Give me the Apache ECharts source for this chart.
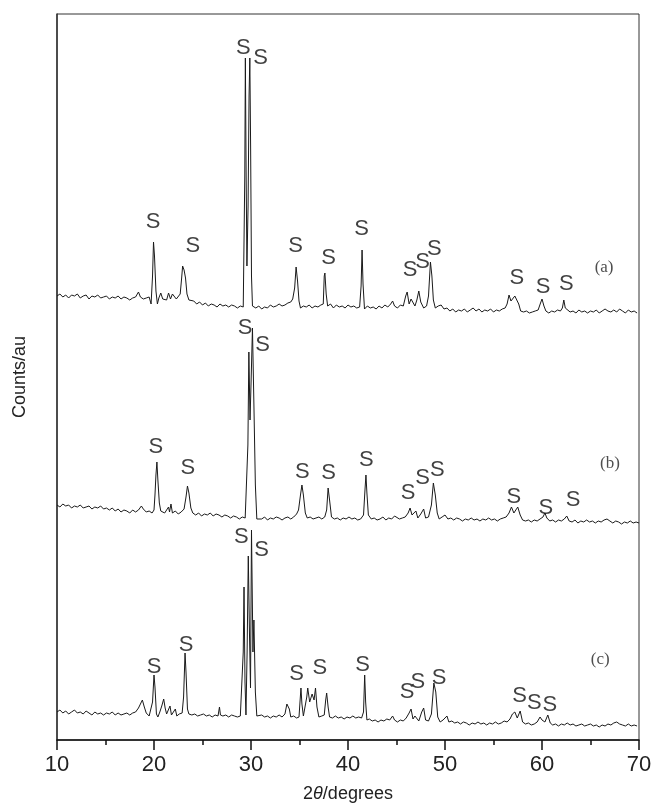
<!DOCTYPE html>
<html>
<head>
<meta charset="utf-8">
<style>html,body{margin:0;padding:0;background:#fff;}#c{width:656px;height:803px;}</style>
<script src="https://cdn.jsdelivr.net/npm/echarts@6/dist/echarts.min.js"></script>
</head>
<body>
<div id="c"></div>
<script>
// x tick labels
const xTicks = [10, 20, 30, 40, 50, 60, 70];
// vertical offsets of the stacked patterns (counts, arbitrary units)
const offsetA = 444, offsetB = 235, offsetC = 28;

// pattern (a): [2theta, counts above its offset]
const patternA = [[10.0,0],[10.3,2],[10.6,-1],[10.9,1],[11.2,-2],[11.5,1],[11.8,0],[12.1,2],[12.4,-2],[12.7,0],[13.0,1],[13.3,-3],[13.6,0],[13.9,-1],[14.2,1],[14.5,-2],[14.8,-1],[15.1,0],[15.4,-3],[15.7,-1],[16.0,-2],[16.3,0],[16.6,-3],[16.9,-1],[17.2,-2],[17.5,-4],[17.8,-2],[18.1,-1],[18.4,4],[18.6,-1],[18.9,-3],[19.2,-2],[19.5,-1],[19.7,-8],[19.85,20],[19.95,54],[20.05,40],[20.2,5],[20.35,-8],[20.5,-2],[20.7,3],[20.9,-3],[21.1,-1],[21.3,-4],[21.5,3],[21.7,-3],[21.9,2],[22.1,4],[22.3,-3],[22.5,-2],[22.7,2],[22.85,18],[22.95,30],[23.1,26],[23.25,18],[23.4,2],[23.6,-4],[23.8,-6],[24.1,-5],[24.4,-8],[24.7,-6],[25.0,-9],[25.3,-7],[25.6,-10],[25.9,-8],[26.2,-9],[26.5,-11],[26.8,-8],[27.1,-10],[27.4,-9],[27.7,-11],[28.0,-9],[28.3,-10],[28.6,-12],[28.9,-10],[29.2,-11],[29.32,-10],[29.36,120],[29.42,238],[29.5,120],[29.58,30],[29.7,90],[29.8,200],[29.88,238],[29.96,150],[30.05,20],[30.15,-10],[30.3,-8],[30.5,-12],[30.8,-10],[31.1,-13],[31.4,-11],[31.7,-12],[32.0,-9],[32.3,-11],[32.6,-10],[32.9,-8],[33.2,-10],[33.5,-9],[33.8,-7],[34.1,-6],[34.3,-3],[34.5,8],[34.65,29],[34.8,15],[34.95,-5],[35.1,-12],[35.4,-10],[35.7,-11],[36.0,-9],[36.3,-12],[36.6,-10],[36.9,-11],[37.2,-9],[37.45,-8],[37.55,20],[37.62,23],[37.75,2],[37.9,-10],[38.2,-8],[38.5,-12],[38.8,-9],[39.1,-11],[39.4,-10],[39.7,-12],[40.0,-9],[40.3,-11],[40.6,-10],[40.9,-12],[41.2,-11],[41.35,10],[41.45,46],[41.55,12],[41.7,-13],[42.0,-10],[42.3,-12],[42.6,-11],[42.9,-13],[43.2,-10],[43.5,-12],[43.8,-9],[44.1,-11],[44.4,-8],[44.6,-5],[44.8,-10],[45.1,-12],[45.4,-9],[45.7,-10],[45.95,0],[46.1,4],[46.3,-8],[46.5,-3],[46.7,-2],[46.9,-10],[47.1,-4],[47.3,5],[47.5,-6],[47.8,-12],[48.1,-10],[48.3,0],[48.5,34],[48.65,20],[48.8,-4],[49.0,-12],[49.3,-10],[49.6,-9],[49.9,-13],[50.2,-12],[50.5,-15],[50.8,-13],[51.1,-16],[51.4,-14],[51.7,-15],[52.0,-13],[52.3,-16],[52.6,-14],[52.9,-12],[53.2,-15],[53.5,-13],[53.8,-16],[54.1,-14],[54.4,-15],[54.7,-13],[55.0,-16],[55.3,-14],[55.6,-15],[55.9,-13],[56.2,-12],[56.4,-8],[56.6,1],[56.8,-5],[57.0,-6],[57.2,0],[57.4,1],[57.6,-8],[57.8,-15],[58.1,-16],[58.4,-15],[58.7,-17],[59.0,-16],[59.3,-15],[59.6,-14],[59.85,-7],[60.0,-3],[60.2,-10],[60.4,-15],[60.7,-17],[61.0,-15],[61.3,-16],[61.6,-14],[61.9,-15],[62.1,-12],[62.25,-4],[62.4,-12],[62.6,-14],[62.9,-16],[63.2,-15],[63.5,-17],[63.8,-14],[64.1,-16],[64.4,-15],[64.7,-17],[65.0,-15],[65.3,-16],[65.6,-14],[65.9,-17],[66.2,-15],[66.5,-13],[66.8,-15],[67.1,-16],[67.4,-14],[67.7,-16],[68.0,-13],[68.3,-15],[68.6,-17],[68.9,-14],[69.2,-16],[69.5,-15],[69.8,-17]];

// pattern (b)
const patternB = [[10.0,0],[10.3,-2],[10.6,1],[10.9,-1],[11.2,0],[11.5,-3],[11.8,-1],[12.1,-2],[12.4,0],[12.7,-3],[13.0,-2],[13.3,-1],[13.6,-4],[13.9,-2],[14.2,-3],[14.5,-1],[14.8,-4],[15.1,-3],[15.4,-5],[15.7,-3],[16.0,-6],[16.3,-4],[16.6,-7],[16.9,-5],[17.2,-6],[17.5,-8],[17.8,-5],[18.1,-7],[18.4,-5],[18.7,-1],[18.9,-4],[19.2,-7],[19.5,-6],[19.8,-8],[20.0,-5],[20.1,10],[20.2,30],[20.3,43],[20.4,25],[20.55,2],[20.7,-6],[20.9,-4],[21.1,-8],[21.3,-6],[21.5,-2],[21.6,-7],[21.75,1],[21.9,-8],[22.2,-6],[22.5,-9],[22.8,-7],[23.1,-4],[23.3,8],[23.45,19],[23.6,12],[23.8,-3],[24.0,-8],[24.3,-10],[24.6,-8],[24.9,-11],[25.2,-9],[25.5,-10],[25.8,-8],[26.1,-11],[26.4,-9],[26.7,-10],[27.0,-12],[27.3,-10],[27.6,-11],[27.9,-13],[28.2,-11],[28.5,-12],[28.8,-14],[29.1,-12],[29.4,-13],[29.6,-12],[29.68,60],[29.78,153],[29.9,85],[30.0,120],[30.15,177],[30.3,100],[30.45,20],[30.6,-14],[30.8,-12],[31.1,-14],[31.4,-12],[31.7,-15],[32.0,-13],[32.3,-14],[32.6,-12],[32.9,-13],[33.2,-15],[33.5,-13],[33.8,-12],[34.1,-14],[34.4,-12],[34.7,-9],[34.9,-5],[35.1,10],[35.25,20],[35.4,10],[35.6,-8],[35.8,-13],[36.1,-12],[36.4,-14],[36.7,-13],[37.0,-12],[37.3,-14],[37.6,-12],[37.8,-5],[37.95,17],[38.1,5],[38.3,-12],[38.6,-14],[38.9,-13],[39.2,-15],[39.5,-13],[39.8,-14],[40.1,-12],[40.4,-14],[40.7,-13],[41.0,-15],[41.3,-14],[41.6,-10],[41.75,15],[41.85,30],[41.95,12],[42.1,-10],[42.4,-14],[42.7,-13],[43.0,-15],[43.3,-14],[43.6,-12],[43.9,-15],[44.2,-13],[44.5,-14],[44.8,-11],[45.0,-9],[45.3,-14],[45.6,-13],[45.9,-12],[46.2,-8],[46.4,-3],[46.6,-10],[46.8,-8],[47.0,-6],[47.2,-13],[47.5,-9],[47.8,-4],[48.0,-13],[48.3,-12],[48.6,0],[48.8,22],[49.0,10],[49.2,-8],[49.4,-14],[49.7,-12],[50.0,-10],[50.3,-14],[50.6,-13],[50.9,-15],[51.2,-13],[51.5,-14],[51.8,-16],[52.1,-14],[52.4,-15],[52.7,-13],[53.0,-15],[53.3,-14],[53.6,-16],[53.9,-14],[54.2,-15],[54.5,-13],[54.8,-15],[55.1,-14],[55.4,-16],[55.7,-14],[56.0,-13],[56.3,-12],[56.6,-8],[56.85,-2],[57.1,-8],[57.5,-2],[57.75,-10],[58.0,-15],[58.3,-16],[58.6,-15],[58.9,-17],[59.2,-15],[59.5,-16],[59.8,-14],[60.1,-12],[60.3,-8],[60.5,-13],[60.8,-16],[61.1,-15],[61.4,-17],[61.7,-15],[62.0,-16],[62.3,-14],[62.55,-11],[62.8,-16],[63.1,-17],[63.4,-15],[63.7,-18],[64.0,-16],[64.3,-17],[64.6,-15],[64.9,-17],[65.2,-16],[65.5,-18],[65.8,-16],[66.1,-17],[66.4,-15],[66.7,-14],[67.0,-16],[67.3,-18],[67.6,-16],[67.9,-17],[68.2,-19],[68.5,-17],[68.8,-18],[69.1,-16],[69.4,-18],[69.7,-17],[70.0,-18]];

// pattern (c)
const patternC = [[10.0,0],[10.3,2],[10.6,-1],[10.9,1],[11.2,-2],[11.5,0],[11.8,2],[12.1,-1],[12.4,0],[12.7,-2],[13.0,1],[13.3,-1],[13.6,-3],[13.9,0],[14.2,-2],[14.5,-1],[14.8,-3],[15.1,-1],[15.4,-2],[15.7,0],[16.0,-3],[16.3,-1],[16.6,-3],[16.9,-2],[17.2,-1],[17.5,-3],[17.8,-1],[18.1,0],[18.4,4],[18.6,8],[18.8,12],[19.0,5],[19.2,-1],[19.5,-4],[19.7,-3],[19.85,10],[20.0,37],[20.1,25],[20.25,-2],[20.4,-5],[20.6,0],[20.8,6],[21.0,13],[21.15,4],[21.3,-2],[21.5,-4],[21.65,6],[21.8,-3],[22.0,-1],[22.2,3],[22.35,-4],[22.6,-2],[22.9,-1],[23.05,15],[23.2,59],[23.3,40],[23.45,3],[23.6,-2],[23.9,-3],[24.2,-2],[24.5,-4],[24.8,-3],[25.1,-2],[25.4,-4],[25.7,-3],[26.0,-5],[26.3,-3],[26.6,-4],[26.75,5],[26.85,-3],[27.1,-4],[27.4,-3],[27.7,-5],[28.0,-3],[28.3,-4],[28.6,-5],[28.9,-4],[29.1,-5],[29.2,60],[29.28,125],[29.38,30],[29.48,-3],[29.6,60],[29.72,156],[29.84,80],[29.95,24],[30.05,182],[30.2,60],[30.3,92],[30.45,20],[30.6,-4],[30.8,-5],[31.1,-3],[31.4,-5],[31.7,-4],[32.0,-6],[32.3,-4],[32.6,-5],[32.9,-3],[33.2,-5],[33.5,-2],[33.7,8],[33.8,10],[33.95,3],[34.1,-5],[34.4,-4],[34.7,-6],[34.95,-5],[35.05,10],[35.15,24],[35.25,8],[35.4,-4],[35.6,-2],[35.75,15],[35.85,24],[36.05,10],[36.3,18],[36.5,12],[36.65,24],[36.8,5],[37.0,-5],[37.3,-4],[37.55,-3],[37.7,12],[37.8,19],[37.95,5],[38.1,-5],[38.4,-6],[38.7,-4],[39.0,-6],[39.3,-5],[39.6,-7],[39.9,-5],[40.2,-6],[40.5,-4],[40.8,-6],[41.1,-5],[41.4,-6],[41.6,0],[41.72,37],[41.82,10],[41.95,-8],[42.2,-7],[42.5,-9],[42.8,-8],[43.1,-10],[43.4,-8],[43.7,-9],[44.0,-7],[44.3,-8],[44.6,-4],[44.8,-8],[45.1,-10],[45.4,-8],[45.7,-9],[46.0,-6],[46.3,-1],[46.5,3],[46.7,-7],[46.9,-4],[47.1,-2],[47.3,-9],[47.6,0],[47.8,4],[48.0,-8],[48.3,-9],[48.6,-2],[48.85,29],[49.05,20],[49.25,-5],[49.5,-10],[49.8,-8],[50.0,-7],[50.2,-4],[50.4,-10],[50.7,-9],[51.0,-11],[51.3,-10],[51.6,-12],[51.9,-10],[52.2,-11],[52.5,-13],[52.8,-11],[53.1,-12],[53.4,-10],[53.7,-12],[54.0,-11],[54.3,-13],[54.6,-11],[54.9,-12],[55.2,-10],[55.5,-12],[55.8,-11],[56.1,-9],[56.4,-10],[56.7,-7],[56.95,-2],[57.2,0],[57.45,-6],[57.75,1],[58.0,-10],[58.3,-12],[58.6,-11],[58.9,-13],[59.2,-12],[59.5,-10],[59.8,-5],[60.0,-8],[60.3,-10],[60.6,-3],[60.85,-11],[61.1,-13],[61.4,-12],[61.7,-14],[62.0,-12],[62.3,-13],[62.6,-11],[62.9,-13],[63.2,-12],[63.5,-14],[63.8,-13],[64.1,-12],[64.4,-14],[64.7,-13],[65.0,-12],[65.3,-14],[65.6,-13],[65.9,-15],[66.2,-13],[66.5,-14],[66.8,-12],[67.1,-13],[67.4,-11],[67.7,-10],[68.0,-12],[68.3,-13],[68.6,-14],[68.9,-12],[69.2,-14],[69.5,-13],[69.8,-14]];

// "S" peak-marker label positions [2theta, counts]
const sLabelsA = [[19.9,518],[24.0,494],[29.2,692],[31.0,682],[34.6,494],[38.0,482],[41.4,511],[46.4,470],[47.7,478],[48.9,491],[57.4,462],[60.1,453],[62.5,456]];
const sLabelsB = [[20.2,293],[23.5,272],[29.4,412],[31.2,395],[35.3,268],[38.0,267],[41.9,280],[46.2,247],[47.7,262],[49.2,270],[57.1,243],[60.4,232],[63.2,240]];
const sLabelsC = [[20.0,73],[23.3,95],[29.0,203],[31.1,190],[34.7,66],[37.1,72],[41.5,75],[46.1,48],[47.2,58],[49.4,62],[57.7,44],[59.2,37],[60.8,35]];
// pattern names and positions
const tagNames = ['(a)', '(b)', '(c)'];
const tagPos = [[66.4,472],[67.0,276],[66.0,80]];

const shift = (arr, off) => arr.map(p => [p[0], p[1] + off]);
const lineStyle = {color: '#1a1a1a', width: 1};
const lineSeries = (d) => ({type: 'line', data: d, symbol: 'none', lineStyle: lineStyle, silent: true, z: 2});
const sSeries = (d) => ({
  type: 'scatter', data: d, symbolSize: 0, silent: true, z: 3,
  label: {show: true, position: 'inside', formatter: 'S', fontFamily: 'Liberation Sans, Arial, sans-serif', fontSize: 22, color: '#111'}
});

const chart = echarts.init(document.getElementById('c'), null, {renderer: 'canvas'});
chart.setOption({
  animation: false,
  backgroundColor: '#fff',
  grid: {left: 57, right: 17, top: 14, bottom: 63, show: true, borderColor: '#333', borderWidth: 1, outerBoundsMode: 'none', containLabel: false},
  xAxis: {
    type: 'value', min: 10, max: 70, interval: 10,
    axisLine: {show: true, onZero: false, lineStyle: {color: '#111', width: 1.5}},
    axisTick: {show: true, inside: false, length: 10, lineStyle: {color: '#111', width: 1.5}},
    minorTick: {show: true, splitNumber: 2, length: 5, lineStyle: {color: '#111', width: 1.5}},
    splitLine: {show: false},
    axisLabel: {margin: 14, fontSize: 22, color: '#222', fontFamily: 'Liberation Sans, Arial, sans-serif',
      formatter: v => xTicks.indexOf(v) >= 0 ? String(v) : ''},
    name: '{n|2}{i|θ}{n|/degrees}', nameLocation: 'middle', nameGap: 45,
    nameTextStyle: {rich: {
      n: {fontSize: 18, color: '#222', fontFamily: 'Liberation Sans, Arial, sans-serif'},
      i: {fontSize: 18, color: '#222', fontStyle: 'italic', fontFamily: 'Liberation Sans, Arial, sans-serif'}
    }}
  },
  yAxis: {
    type: 'value', min: 0, max: 726,
    axisLine: {show: true, lineStyle: {color: '#333', width: 1.5}},
    axisTick: {show: false}, axisLabel: {show: false}, splitLine: {show: false},
    name: 'Counts/au', nameLocation: 'middle', nameRotate: 90, nameGap: 28,
    nameTextStyle: {fontSize: 18, color: '#222', fontFamily: 'Liberation Sans, Arial, sans-serif'}
  },
  series: [
    lineSeries(shift(patternA, offsetA)),
    lineSeries(shift(patternB, offsetB)),
    lineSeries(shift(patternC, offsetC)),
    sSeries(sLabelsA), sSeries(sLabelsB), sSeries(sLabelsC),
    {
      type: 'scatter', symbolSize: 0, silent: true, z: 3,
      data: tagPos.map((p, i) => ({value: p, name: tagNames[i]})),
      label: {show: true, position: 'inside', formatter: p => p.name, fontFamily: 'Liberation Serif, Times New Roman, serif', fontSize: 17, color: '#222'}
    }
  ]
});
</script>
</body>
</html>
